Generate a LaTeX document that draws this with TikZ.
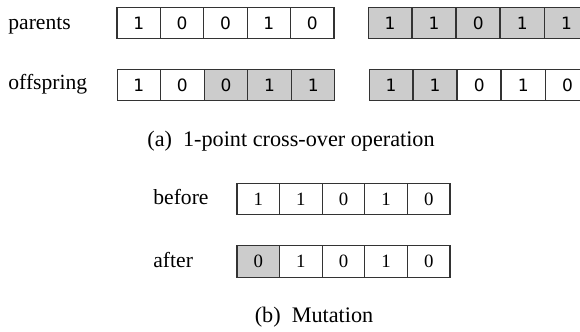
\documentclass[tikz,border=0pt]{standalone}
\usepackage{fontspec}
\setmainfont{Liberation Serif}
\newfontfamily\digitfont{DejaVu Sans}
\definecolor{cellgray}{HTML}{CCCCCC}
\definecolor{cellline}{HTML}{333333}
\begin{document}
\begin{tikzpicture}[x=0.5pt,y=-0.5pt,
  cellA/.style={draw=cellline,line width=0.55pt,minimum width=21.7pt,minimum height=15.6pt,inner sep=0pt,font=\digitfont\fontsize{8.5}{10}\selectfont},
  cellB/.style={draw=cellline,line width=0.55pt,minimum width=21.3pt,minimum height=15.8pt,inner sep=0pt,font=\fontsize{9.4}{10}\selectfont},
  lbl/.style={anchor=base west,inner sep=0pt,font=\fontsize{10.8}{12}\selectfont},
  captxt/.style={anchor=base,inner sep=0pt,font=\fontsize{11.1}{12}\selectfont}]
\useasboundingbox (0,0) rectangle (580,332);
% labels
\node[lbl] (lp) at (8,29) {parents};
\node[lbl] (lo) at (8,90) {offspring};
% parents
\foreach \v/\f [count=\i] in {1/white,0/white,0/white,1/white,0/white}
  \node[cellA,fill=\f] (pa\i) at ({117+43.4*(\i-0.5)},23) {\v};
\foreach \v/\f [count=\i] in {1/cellgray,1/cellgray,0/cellgray,1/cellgray,1/cellgray}
  \node[cellA,fill=\f] (pb\i) at ({368+44.1*(\i-0.5)},23) {\v};
% offspring
\foreach \v/\f [count=\i] in {1/white,0/white,0/cellgray,1/cellgray,1/cellgray}
  \node[cellA,fill=\f] (oa\i) at ({117+43.6*(\i-0.5)},85) {\v};
\foreach \v/\f [count=\i] in {1/cellgray,1/cellgray,0/white,1/white,0/white}
  \node[cellA,fill=\f] (ob\i) at ({369+44.1*(\i-0.5)},85) {\v};
\node[captxt] (ca) at (291,147) {(a)\ \ 1-point cross-over operation};
% mutation
\node[lbl] (lb) at (153,205) {before};
\node[lbl] (la) at (153,267) {after};
\foreach \v/\f [count=\i] in {1/white,1/white,0/white,1/white,0/white}
  \node[cellB,fill=\f] (mb\i) at ({237+42.6*(\i-0.5)},199) {\v};
\foreach \v/\f [count=\i] in {0/cellgray,1/white,0/white,1/white,0/white}
  \node[cellB,fill=\f] (ma\i) at ({237+42.6*(\i-0.5)},261.5) {\v};
\node[captxt] (cb) at (314,322) {(b)\ \ Mutation};
\end{tikzpicture}
\end{document}
